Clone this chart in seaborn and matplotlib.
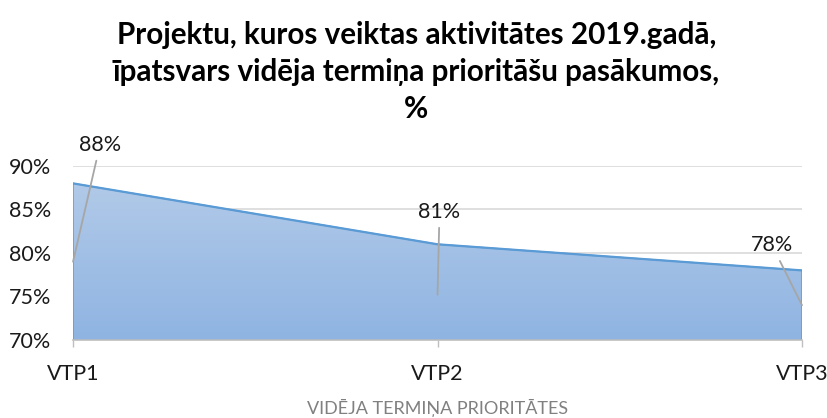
import numpy as np
import matplotlib
matplotlib.use('Agg')
import matplotlib.pyplot as plt
import seaborn as sns
from matplotlib.colors import LinearSegmentedColormap

# datos
categorias = ['VTP1', 'VTP2', 'VTP3']
valores = [88, 81, 78]
etiquetas = ['88%', '81%', '78%']
# puntos a donde apuntan las lineas guia de las etiquetas
guia_y = [79, 75.2, 74]
y_ticks = [70, 75, 80, 85, 90]

sns.set_theme(style='white')
plt.rcParams['font.family'] = ['Lato', 'DejaVu Sans']

fig = plt.figure(figsize=(8.28, 4.18), dpi=100)
ax = fig.add_axes([0.0882, 0.1866, 0.8804, 0.4163])

x = np.arange(len(categorias))

# area con degradado
poly = ax.fill_between(x, valores, 70, facecolor='none', edgecolor='#5B9BD5', linewidth=1.0, zorder=2)
cmap = LinearSegmentedColormap.from_list('grad', ['#8FB4E2', '#B5CCE9'])
grad = np.linspace(0, 1, 256).reshape(-1, 1)
im = ax.imshow(grad, cmap=cmap, origin='lower', aspect='auto', extent=[0, 2, 70, 90], zorder=1)
im.set_clip_path(poly.get_paths()[0], transform=ax.transData)

sns.lineplot(x=x, y=valores, color='#5B9BD5', linewidth=1.6, ax=ax, zorder=3)

# etiquetas con lineas guia
offsets = [(27, 117), (2, 83), (-30, 60)]
for i in range(len(valores)):
    ax.annotate(etiquetas[i], xy=(x[i], guia_y[i]), xytext=offsets[i], textcoords='offset pixels',
                ha='center', va='center', fontsize=15.5, color='#1a1a1a',
                arrowprops=dict(arrowstyle='-', color='#A6A6A6', lw=1.3, shrinkA=2, shrinkB=0),
                annotation_clip=False, zorder=4)

ax.set_xlim(0, 2)
ax.set_ylim(70, 90)
ax.set_yticks(y_ticks)
ax.set_yticklabels([f'{v}%' for v in y_ticks])
ax.set_xticks(x)
ax.set_xticklabels(categorias)
ax.grid(axis='y', color='#D9D9D9', linewidth=1.2, zorder=0)
ax.set_axisbelow(True)

for s in ['left', 'right', 'top']:
    ax.spines[s].set_visible(False)
ax.spines['bottom'].set_color('#BFBFBF')
ax.spines['bottom'].set_linewidth(1.2)
ax.spines['bottom'].set_zorder(5)

ax.tick_params(axis='y', length=0, pad=16, labelsize=15.5, labelcolor='#1a1a1a')
ax.tick_params(axis='x', length=5, width=1, color='#BFBFBF', bottom=True, pad=12,
               labelsize=15.5, labelcolor='#1a1a1a')

ax.set_xlabel('VIDĒJA TERMIŅA PRIORITĀTES', fontsize=13, color='#808080', labelpad=11)

fig.suptitle('Projektu, kuros veiktas aktivitātes 2019.gadā,\nīpatsvars vidēja termiņa prioritāšu pasākumos,\n%',
             x=0.503, y=0.95, va='top', fontsize=21.3, fontweight='bold', color='#000000', linespacing=1.4)

fig.savefig('out.png', dpi=100)
